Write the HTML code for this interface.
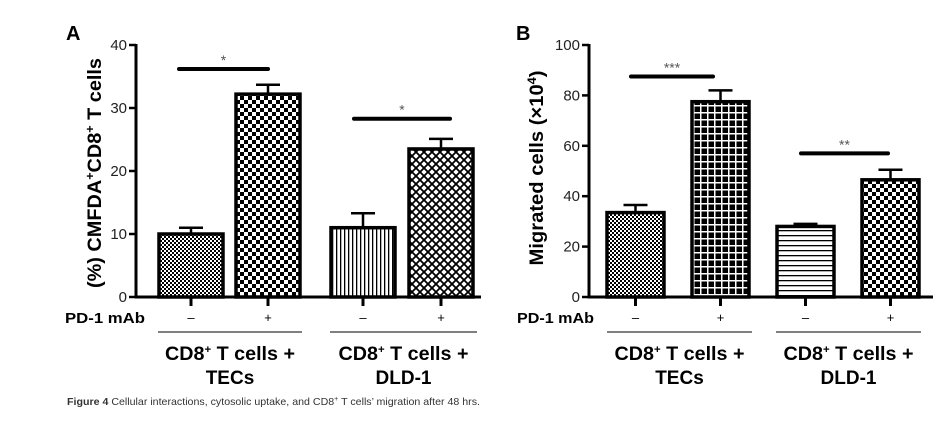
<!DOCTYPE html>
<html><head><meta charset="utf-8"><style>
body{margin:0;background:#fff;}
svg{display:block;font-family:"Liberation Sans",Arial,sans-serif;}
.narrow{font-family:"Liberation Sans Narrow","Liberation Sans",sans-serif;}
</style></head><body>
<svg id="fig" width="939" height="421" viewBox="0 0 939 421">
<defs>
<pattern id="pFine" width="4" height="4" patternUnits="userSpaceOnUse"><rect width="4" height="4" fill="#fff"/><rect width="2" height="2" fill="#000"/><rect x="2" y="2" width="2" height="2" fill="#000"/></pattern>
<pattern id="pCheck" width="8" height="8" patternUnits="userSpaceOnUse"><rect width="8" height="8" fill="#fff"/><rect width="4" height="4" fill="#000"/><rect x="4" y="4" width="4" height="4" fill="#000"/></pattern>
<pattern id="pVert" width="4" height="4" patternUnits="userSpaceOnUse"><rect width="4" height="4" fill="#fff"/><rect width="1.3" height="4" fill="#000"/></pattern>
<pattern id="pHoriz" width="5" height="5" patternUnits="userSpaceOnUse"><rect width="5" height="5" fill="#fff"/><rect width="5" height="1.3" fill="#000"/></pattern>
<pattern id="pCross" width="8" height="8" patternUnits="userSpaceOnUse"><rect width="8" height="8" fill="#fff"/><path d="M0 0L8 8M8 0L0 8M-1 7L1 9M7 -1L9 1M-1 1L1 -1M7 9L9 7" stroke="#000" stroke-width="1.8"/></pattern>
<pattern id="pGrid" width="7" height="7" patternUnits="userSpaceOnUse"><rect width="7" height="7" fill="#000"/><rect x="0" y="0" width="7" height="1.5" fill="#fff"/><rect x="0" y="0" width="1.5" height="7" fill="#fff"/></pattern>
</defs>
<g id="panels"></g>
<text x="67" y="405" font-size="10.5" fill="#333" textLength="413" lengthAdjust="spacingAndGlyphs"><tspan font-weight="bold">Figure 4</tspan> Cellular interactions, cytosolic uptake, and CD8<tspan font-size="7" dy="-4">+</tspan><tspan dy="4"> T cells’ migration after 48 hrs.</tspan></text>
</svg>
<script>
// Panel A data
const aCategories = ["TECs -", "TECs +", "DLD-1 -", "DLD-1 +"];
const aValues = [10, 32.2, 11, 23.5];
const aErrors = [1, 1.5, 2.3, 1.6];
const aTicks = [0, 10, 20, 30, 40];
// Panel B data
const bCategories = ["TECs -", "TECs +", "DLD-1 -", "DLD-1 +"];
const bValues = [33.5, 77.5, 28, 46.5];
const bErrors = [3, 4.5, 1, 4];
const bTicks = [0, 20, 40, 60, 80, 100];

const NS = "http://www.w3.org/2000/svg";
const root = document.getElementById("panels");
function mk(tag, attrs, parent, text){
  const e = document.createElementNS(NS, tag);
  for (const k in attrs) e.setAttribute(k, attrs[k]);
  if (text !== undefined) e.textContent = text;
  (parent || root).appendChild(e);
  return e;
}

function panel(cfg){
  const g = mk("g", {});
  
  
  const y = v => cfg.y0 - (v / cfg.max) * (cfg.y0 - cfg.yTop);
  const L = mk("text", {x: cfg.letterX, y: 40, "font-size": 20, "font-weight": "bold"}, g, cfg.letter);
  
  
  const t = mk("text", {transform: `translate(${cfg.titleX},${cfg.titleY}) rotate(-90)`, "text-anchor": "middle", "font-size": 19, "font-weight": "bold", textLength: cfg.titleLen, lengthAdjust: "spacingAndGlyphs"}, g);
  t.innerHTML = cfg.title;
  
  
  cfg.values.forEach((v, i) => {
    const x0 = cfg.barX[i], w = cfg.barW;
    const cx = x0 + w / 2;
    const et = y(v + cfg.errors[i]);
    const eb = mk("path", {d: `M${cx} ${y(v)}V${et}M${cx - 12} ${et}H${cx + 12}`, stroke: "#000", "stroke-width": 2.5, fill: "none"}, g);
    
    
    const r = mk("rect", {x: x0, y: y(v), width: w, height: cfg.y0 - y(v), fill: `url(#${cfg.pats[i]})`, stroke: "#000", "stroke-width": 3.5}, g);
    
    
    const tk = mk("line", {x1: cx, x2: cx, y1: cfg.y0, y2: cfg.y0 + 9, stroke: "#000", "stroke-width": 3}, g);
    
    
    const s = mk("text", {x: cx, y: 322, "text-anchor": "middle", "font-size": 13}, g, i % 2 ? "+" : "–");
    
    
  });
  const ax = mk("path", {d: `M${cfg.axX} ${cfg.yTop - 1}V${cfg.y0}H${cfg.axEnd}`, stroke: "#000", "stroke-width": 3, fill: "none"}, g);
  
  
  cfg.ticks.forEach(tv => {
    const tl = mk("line", {x1: cfg.axX - 7, x2: cfg.axX, y1: y(tv), y2: y(tv), stroke: "#000", "stroke-width": 2.5}, g);
    
    
    const tx = mk("text", {x: cfg.axX - 9, y: y(tv) + 5, "text-anchor": "end", "font-size": 15, fill: "#222"}, g, tv);
    
    
  });
  cfg.sig.forEach(s => {
    const yy = y(s.v);
    const l = mk("line", {x1: s.x1, x2: s.x2, y1: yy, y2: yy, stroke: "#000", "stroke-width": 4, "stroke-linecap": "round"}, g);
    
    
    const st = mk("text", {x: (s.x1 + s.x2) / 2, y: yy - 4, "text-anchor": "middle", "font-size": 14, fill: "#555"}, g, s.label);
    
    
  });
  const pd = mk("text", {x: cfg.pdX, y: 323, "font-size": 15, "font-weight": "bold", textLength: cfg.pdLen, lengthAdjust: "spacingAndGlyphs"}, g, "PD-1 mAb");
  
  
  cfg.groups.forEach(gr => {
    const gl = mk("line", {x1: gr.x1, x2: gr.x2, y1: 332, y2: 332, stroke: "#000", "stroke-width": 1}, g);
    
    
    const c = (gr.x1 + gr.x2) / 2;
    const t1 = mk("text", {x: c, y: 360, "text-anchor": "middle", "font-size": 19, "font-weight": "bold", textLength: 130, lengthAdjust: "spacingAndGlyphs"}, g);
    t1.innerHTML = 'CD8<tspan font-size="11" dy="-7">+</tspan><tspan dy="7"> T cells +</tspan>';
    
    
    const t2 = mk("text", {x: c, y: 384, "text-anchor": "middle", "font-size": 19, "font-weight": "bold"}, g, gr.label);
    
    
  });
}

panel({name: "panel-a", letter: "A", letterX: 66, title: '(%) CMFDA<tspan font-size="12" dy="-7">+</tspan><tspan dy="7">CD8</tspan><tspan font-size="12" dy="-7">+</tspan><tspan dy="7"> T cells</tspan>',
  titleX: 101, titleY: 173, titleLen: 230, axX: 136, axEnd: 481, y0: 297, yTop: 45, max: 40, ticks: aTicks, values: aValues, errors: aErrors, cats: aCategories,
  barX: [159, 236, 331, 409], barW: 64, pats: ["pFine", "pCheck", "pVert", "pCross"],
  sig: [{x1: 179, x2: 268, v: 36.2, label: "*"}, {x1: 354, x2: 450, v: 28.3, label: "*"}],
  pdX: 65, pdLen: 80, groups: [{x1: 158, x2: 302, label: "TECs"}, {x1: 330, x2: 477, label: "DLD-1"}]});

panel({name: "panel-b", letter: "B", letterX: 516, title: 'Migrated cells (×10<tspan font-size="12" dy="-7">4</tspan><tspan dy="7">)</tspan>',
  titleX: 543, titleY: 168, titleLen: 195, axX: 589, axEnd: 933, y0: 297, yTop: 45, max: 100, ticks: bTicks, values: bValues, errors: bErrors, cats: bCategories,
  barX: [607, 692, 777, 862], barW: 57, pats: ["pFine", "pGrid", "pHoriz", "pCheck"],
  sig: [{x1: 631, x2: 713, v: 87.5, label: "***"}, {x1: 801, x2: 888, v: 57, label: "**"}],
  pdX: 517, pdLen: 77, groups: [{x1: 607, x2: 752, label: "TECs"}, {x1: 776, x2: 921, label: "DLD-1"}]});
</script>
</body></html>
